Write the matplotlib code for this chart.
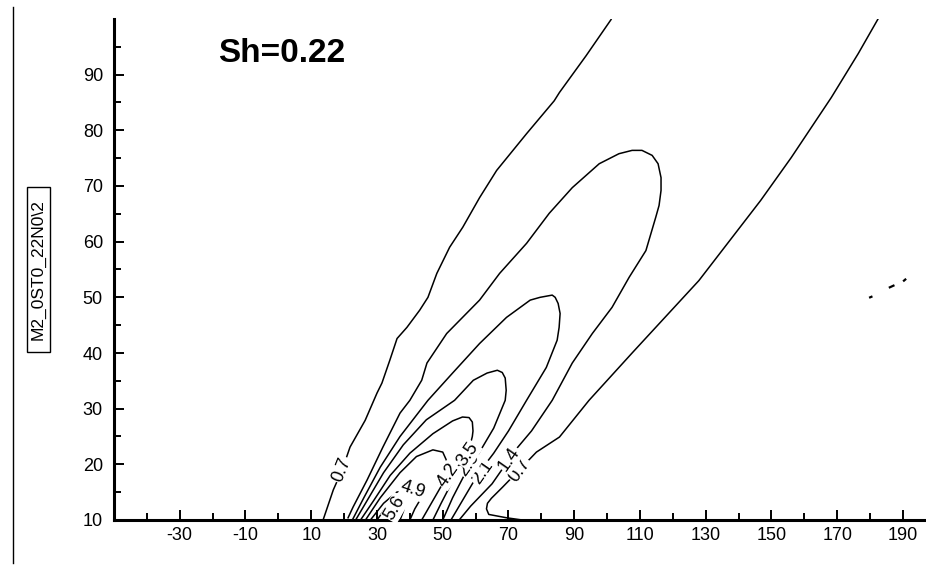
import matplotlib
matplotlib.use("Agg")
import matplotlib.pyplot as plt
from matplotlib.patches import Rectangle

plt.rcParams["font.family"] = ["Liberation Sans", "DejaVu Sans"]
plt.rcParams["axes.unicode_minus"] = False

# contour levels of the field
levels = [0.7, 1.4, 2.1, 2.8, 3.5, 4.2, 4.9, 5.6, 6.3]

# traced iso-lines (x, y) for each level
c07_left_x = [13.6, 16.7, 19.4, 21.8, 26.4, 30.0, 31.5, 33.9, 36.1, 39.1, 43.0, 45.5, 48.2, 52.1, 56.1, 61.2, 66.4, 75.5, 83.9, 85.5, 93.6, 101.2]
c07_left_y = [10.0, 15.4, 19.0, 23.1, 27.9, 32.8, 34.6, 38.7, 42.6, 44.6, 47.7, 50.0, 54.3, 59.0, 62.6, 67.9, 72.8, 79.4, 85.3, 86.8, 93.4, 99.9]

c07_right_x = [74.2, 69.4, 64.0, 63.3, 63.6, 64.8, 68.2, 73.3, 78.5, 85.5, 94.5, 107.6, 127.9, 146.7, 156.0, 168.2, 176.4, 182.4]
c07_right_y = [10.0, 10.4, 11.0, 12.0, 13.0, 13.9, 15.9, 19.0, 22.2, 24.9, 31.5, 40.0, 53.0, 67.4, 75.1, 85.9, 93.8, 100.0]

c07_spots_x = [[180.0, 180.4], [186.0, 187.1], [190.3, 190.7]]
c07_spots_y = [[50.0, 50.1], [51.8, 52.1], [53.0, 53.2]]

c14_x = [21.2, 22.7, 27.0, 31.8, 37.0, 40.0, 43.6, 45.2, 51.2, 61.2, 67.3, 75.5, 82.4, 89.4, 97.6, 103.6, 107.6, 110.6, 113.7, 115.5, 116.4, 116.4, 115.8, 114.8, 111.8, 106.7, 101.5, 95.5, 89.4, 83.3, 77.0, 72.0, 70.3, 65.0, 58.5, 55.0]
c14_y = [10.4, 12.3, 17.2, 23.1, 29.2, 31.5, 35.1, 38.2, 43.5, 49.5, 54.3, 59.7, 65.1, 69.7, 74.0, 75.8, 76.4, 76.4, 75.5, 74.0, 71.5, 69.2, 66.5, 64.4, 58.4, 53.6, 48.2, 43.5, 38.2, 31.5, 26.0, 22.5, 21.0, 16.5, 12.5, 10.0]

c21_x = [22.5, 26.0, 31.0, 37.0, 45.5, 53.0, 61.2, 69.4, 76.6, 79.6, 83.3, 84.2, 85.1, 85.7, 85.4, 84.8, 81.5, 75.5, 70.0, 65.5, 61.0, 56.5, 52.5]
c21_y = [10.0, 14.0, 19.5, 25.0, 31.5, 36.4, 41.7, 46.4, 49.5, 50.0, 50.4, 50.0, 48.9, 47.1, 44.6, 42.3, 37.4, 31.5, 26.0, 22.0, 18.5, 14.0, 10.0]

c28_x = [23.5, 27.0, 32.0, 38.0, 45.0, 53.6, 59.3, 63.5, 66.6, 68.1, 69.0, 69.3, 69.0, 65.5, 61.0, 56.5, 53.0, 50.0]
c28_y = [10.0, 13.5, 18.5, 23.5, 28.0, 31.5, 35.1, 36.4, 36.9, 36.5, 35.5, 33.3, 31.5, 26.5, 22.0, 18.0, 14.0, 10.0]

c35_x = [25.0, 29.0, 34.0, 40.0, 47.0, 53.0, 56.0, 58.0, 59.0, 59.2, 59.0, 57.6, 53.0, 49.5, 47.0]
c35_y = [10.0, 13.5, 18.0, 22.0, 25.5, 27.8, 28.5, 28.4, 27.6, 26.0, 25.0, 21.8, 17.0, 13.0, 10.0]

c42_x = [26.5, 31.0, 37.0, 42.0, 47.0, 50.0, 51.3, 51.5, 47.5, 43.6]
c42_y = [10.0, 14.0, 18.5, 21.4, 22.6, 22.2, 20.5, 18.1, 14.0, 10.0]

c49_x = [28.0, 32.0, 36.0, 41.0, 43.5, 43.0, 41.5, 40.0]
c49_y = [10.0, 13.0, 15.0, 15.6, 15.0, 13.5, 12.0, 10.0]

c56_x = [30.0, 33.0, 36.5, 38.5, 38.0, 37.0]
c56_y = [10.0, 12.5, 13.2, 12.6, 11.5, 10.0]

# label anchors: (level, x, y, rotation)
label_level = [0.7, 0.7, 1.4, 2.1, 2.8, 3.5, 4.2, 4.9, 5.6]
label_x = [19.4, 73.3, 70.3, 62.0, 58.0, 57.6, 51.5, 41.0, 35.5]
label_y = [19.0, 19.0, 21.0, 18.5, 20.0, 21.8, 18.1, 15.4, 12.2]
label_rot = [68, 55, 55, 55, 55, 55, 55, -18, 60]

fig = plt.figure(figsize=(9.26, 5.67), dpi=100)
ax = fig.add_axes([114 / 926, 47 / 567, 812 / 926, 501 / 567])

line_kw = dict(color="black", lw=1.1, solid_joinstyle="round")
for xs, ys in [(c07_left_x, c07_left_y), (c07_right_x, c07_right_y),
               (c14_x, c14_y), (c21_x, c21_y), (c28_x, c28_y),
               (c35_x, c35_y), (c42_x, c42_y), (c49_x, c49_y),
               (c56_x, c56_y)]:
    ax.plot(xs, ys, **line_kw)
for xs, ys in zip(c07_spots_x, c07_spots_y):
    ax.plot(xs, ys, color="black", lw=1.6)

for lv, lx, ly, rot in zip(label_level, label_x, label_y, label_rot):
    ax.text(lx, ly, f"{lv:.1f}", rotation=rot, ha="center", va="center",
            fontsize=13, rotation_mode="anchor", zorder=5,
            bbox=dict(boxstyle="square,pad=0.05", fc="white", ec="none"))

ax.set_xlim(-50, 197)
ax.set_ylim(10, 100)
ax.set_xticks(list(range(-30, 191, 20)))
ax.set_xticks(list(range(-40, 197, 20)), minor=True)
ax.set_yticks(list(range(10, 91, 10)))
ax.set_yticks([15, 25, 35, 45, 55, 65, 75, 85, 95], minor=True)

for side in ("top", "right"):
    ax.spines[side].set_visible(False)
for side in ("left", "bottom"):
    ax.spines[side].set_linewidth(2.2)
ax.tick_params(which="both", direction="in", width=1.4, labelsize=13)
ax.tick_params(which="major", length=7)
ax.tick_params(which="minor", length=5)
ax.tick_params(axis="x", pad=5)
ax.tick_params(axis="y", pad=8)

ax.text((218 - 114) / 812, (520 - 53) / 501, "Sh=0.22", transform=ax.transAxes,
        fontsize=24, fontweight="bold", ha="left", va="center")

# side title and frame line
fig.add_artist(plt.Line2D([12.5 / 926, 12.5 / 926], [4 / 567, 560 / 567],
                          color="black", lw=1.0))
fig.add_artist(Rectangle((27 / 926, (567 - 352) / 567), 23 / 926, 165 / 567,
                         transform=fig.transFigure, fill=False,
                         ec="black", lw=1.0))
fig.text(38.5 / 926, (567 - 270) / 567, "M2_0ST0_22N0\\2", rotation=90,
         ha="center", va="center", fontsize=12.5)

fig.savefig("out.png", dpi=100)
